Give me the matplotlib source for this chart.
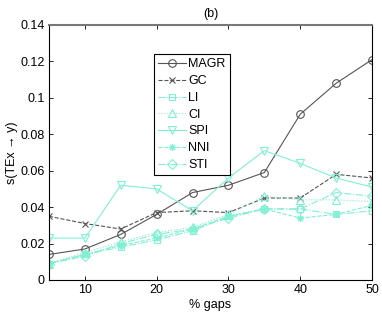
import matplotlib
matplotlib.use("Agg")
import matplotlib.pyplot as plt

gaps = [5, 10, 15, 20, 25, 30, 35, 40, 45, 50]
magr = [0.014, 0.017, 0.025, 0.036, 0.048, 0.052, 0.059, 0.091, 0.108, 0.121]
gc = [0.035, 0.031, 0.028, 0.037, 0.038, 0.037, 0.045, 0.045, 0.058, 0.056]
li = [0.009, 0.014, 0.018, 0.022, 0.027, 0.035, 0.039, 0.039, 0.036, 0.038]
ci = [0.009, 0.015, 0.021, 0.026, 0.029, 0.036, 0.046, 0.044, 0.044, 0.043]
spi = [0.023, 0.023, 0.052, 0.050, 0.038, 0.056, 0.071, 0.064, 0.056, 0.051]
nni = [0.009, 0.014, 0.019, 0.023, 0.028, 0.035, 0.039, 0.034, 0.036, 0.041]
sti = [0.009, 0.013, 0.020, 0.025, 0.028, 0.034, 0.039, 0.039, 0.048, 0.046]

labels = ["MAGR", "GC", "LI", "CI", "SPI", "NNI", "STI"]
xticks = [10, 20, 30, 40, 50]
yticks = [0, 0.02, 0.04, 0.06, 0.08, 0.1, 0.12, 0.14]
yticklabels = ["0", "0.02", "0.04", "0.06", "0.08", "0.1", "0.12", "0.14"]

plt.rcParams['font.family'] = ['Liberation Sans', 'DejaVu Sans']
fig = plt.figure(figsize=(3.82, 3.12), dpi=100)
ax = fig.add_axes([0.128, 0.1026, 0.846, 0.8174])

dark = '#555555'
cyan = '#80f0d4'
series = [
    (magr, dark, '-', 'o', 5.5),
    (gc, dark, '--', 'x', 4),
    (li, cyan, '-.', 's', 5),
    (ci, cyan, ':', '^', 5.5),
    (spi, cyan, '-', 'v', 5.5),
    (nni, cyan, '--', (8, 2, 0), 5),
    (sti, cyan, '-.', 'D', 5),
]
for (vals, col, ls, mk, msz), lab in zip(series, labels):
    ax.plot(gaps, vals, color=col, linestyle=ls, marker=mk, markersize=msz,
            markerfacecolor='none', markeredgecolor=col, linewidth=0.8, label=lab,
            markeredgewidth=0.8)

ax.set_xlim(5, 50)
ax.set_ylim(0, 0.14)
ax.set_xticks(xticks)
ax.set_xticklabels([str(t) for t in xticks])
ax.set_yticks(yticks)
ax.set_yticklabels(yticklabels)
ax.tick_params(direction='in', top=True, right=True, labelsize=9, length=3, width=0.6, pad=3)
for s in ax.spines.values():
    s.set_linewidth(0.8)
ax.spines['top'].set_color('#777777')
ax.spines['top'].set_linewidth(1.5)

ax.set_xlabel('% gaps', fontsize=9, labelpad=2)
ax.set_ylabel('s(TEx \u2192 y)', fontsize=9, labelpad=2)
ax.set_title('(b)', fontsize=9, pad=6)

leg = ax.legend(loc='upper left', bbox_to_anchor=(0.325, 0.886), fontsize=9, frameon=True,
                fancybox=False, edgecolor='black', framealpha=1, handlelength=2.2,
                labelspacing=0.38, borderpad=0.35, handletextpad=0.2, borderaxespad=0)
leg.get_frame().set_linewidth(0.8)

fig.savefig('out.png', dpi=100)
